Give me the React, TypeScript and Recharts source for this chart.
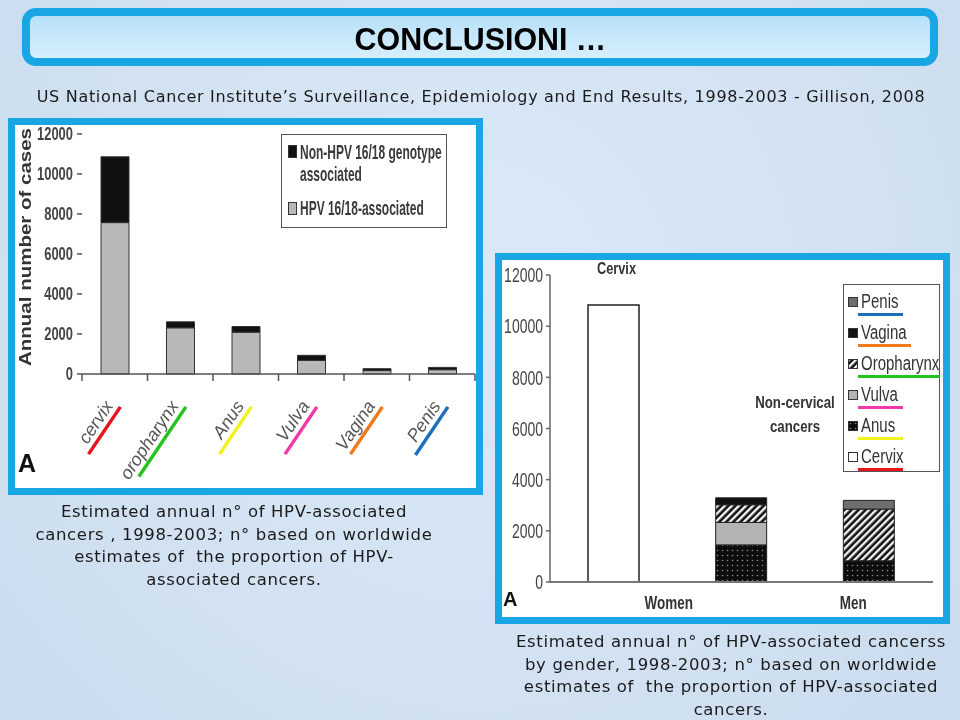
import React from "react";
import { BarChart, Bar, XAxis, YAxis, Legend, LabelList } from "recharts";

// ---------- data: chart A (by cancer site) ----------
const siteCategories = ["cervix", "oropharynx", "Anus", "Vulva", "Vagina", "Penis"];
const hpv1618Cases = [7570, 2310, 2090, 680, 170, 215];
const nonHpv1618Cases = [3290, 300, 285, 255, 95, 115];
const leftYTicks = [0, 2000, 4000, 6000, 8000, 10000, 12000];

// ---------- data: chart B (by gender) ----------
const genderCategories = ["Women cervix", "Women non-cervical", "Men"];
const genderTickLabels = ["Women", "", "Men"];
const cervixCases = [10830, 0, 0];
const anusCases = [0, 1450, 830];
const vulvaCases = [0, 880, 0];
const oropharynxCases = [0, 690, 2020];
const vaginaCases = [0, 270, 0];
const penisCases = [0, 0, 340];
const rightYTicks = [0, 2000, 4000, 6000, 8000, 10000, 12000];
const rightLegendOrder = ["Penis", "Vagina", "Oropharynx", "Vulva", "Anus", "Cervix"];

// ---------- styles ----------
const SANS = "'Liberation Sans', Arial, sans-serif";
const GOTHIC = "'DejaVu Sans', sans-serif";
const BLUE = "#19a6e4";
const siteUnderlineColors = ["#e8141b", "#22c41d", "#f4f21c", "#ee3aa8", "#f07a1a", "#1c6fb8"];
const siteUnderlineLen = [54, 81, 54, 54, 54, 55];
const LEFT_BAND = (475 - 82) / 6;

const seriesFill: Record<string, string> = {
  Penis: "#6e6e6e",
  Vagina: "#111111",
  Oropharynx: "url(#oroHatch)",
  Vulva: "#b3b3b3",
  Anus: "url(#anusDots)",
  Cervix: "#ffffff",
};
const seriesUnderline: Record<string, string> = {
  Penis: "#1c6fb8",
  Vagina: "#f07a1a",
  Oropharynx: "#22c41d",
  Vulva: "#ee3aa8",
  Anus: "#f4f21c",
  Cervix: "#e8141b",
};
const seriesUnderlineLen: Record<string, number> = {
  Penis: 45, Vagina: 53, Oropharynx: 82, Vulva: 45, Anus: 45, Cervix: 45,
};

const leftData = siteCategories.map((site, i) => ({
  site,
  hpv: hpv1618Cases[i],
  non: nonHpv1618Cases[i],
}));

const rightData = genderCategories.map((g, i) => ({
  group: g,
  label: genderTickLabels[i],
  Cervix: cervixCases[i],
  Anus: anusCases[i],
  Vulva: vulvaCases[i],
  Oropharynx: oropharynxCases[i],
  Vagina: vaginaCases[i],
  Penis: penisCases[i],
}));

// ---------- tick renderers ----------
const LeftYTick = (p: any) => (
  <text
    transform={`translate(${p.x},${p.y}) scale(0.72,1)`}
    textAnchor="end"
    dy="0.36em"
    fontSize={18}
    fontWeight="bold"
    fill="#444"
    fontFamily={SANS}
  >
    {p.payload.value}
  </text>
);

const LeftXTick = (p: any) => {
  const { x, y, payload, index } = p;
  const half = LEFT_BAND / 2;
  return (
    <g transform={`translate(${x},${y})`}>
      {index === 0 && <line x1={-half} y1={0} x2={-half} y2={7} stroke="#555" strokeWidth={1.5} />}
      <line x1={half} y1={0} x2={half} y2={7} stroke="#555" strokeWidth={1.5} />
      <g transform="translate(-1,32) rotate(-56)">
        <text textAnchor="end" fontStyle="italic" fontSize={18} fill="#555" fontFamily={SANS}>
          {payload.value}
        </text>
        <line
          x1={-siteUnderlineLen[index]}
          x2={3}
          y1={6}
          y2={6}
          stroke={siteUnderlineColors[index]}
          strokeWidth={3.5}
        />
      </g>
    </g>
  );
};

const RightYTick = (p: any) => (
  <text
    transform={`translate(${p.x},${p.y}) scale(0.7,1)`}
    textAnchor="end"
    dy="0.36em"
    fontSize={20}
    fill="#444"
    fontFamily={SANS}
  >
    {p.payload.value}
  </text>
);

const genderLabelShift = [55, 0, -16];
const RightXTick = (p: any) => {
  const { x, y, index } = p;
  const lab = genderTickLabels[index];
  if (!lab) return null;
  return (
    <text
      transform={`translate(${x + genderLabelShift[index]},${y + 27}) scale(0.75,1)`}
      textAnchor="middle"
      fontSize={18}
      fontWeight="bold"
      fill="#333"
      fontFamily={SANS}
    >
      {lab}
    </text>
  );
};

const CervixTopLabel = (p: any) => {
  const { x, y, width, value } = p;
  if (!value) return null;
  return (
    <text
      transform={`translate(${x + width / 2 + 3},${y - 31}) scale(0.75,1)`}
      textAnchor="middle"
      fontSize={17}
      fontWeight="bold"
      fill="#333"
      fontFamily={SANS}
    >
      Cervix
    </text>
  );
};

const YAxisTitle = (p: any) => {
  const vb = p.viewBox || { x: 0, y: 0, width: 0, height: 0 };
  return (
    <text
      transform={`translate(${vb.x + 5},${vb.y + vb.height / 2 - 7}) rotate(-90) scale(1,0.78)`}
      textAnchor="middle"
      fontSize={20.5}
      fontWeight="bold"
      fill="#333"
      fontFamily={SANS}
    >
      Annual number of cases
    </text>
  );
};

// ---------- legends ----------
const sq = (txt: string, scale: number, size: number, bold: boolean, color = "#333") => (
  <span
    style={{
      display: "inline-block",
      transform: `scaleX(${scale})`,
      transformOrigin: "left center",
      fontSize: size,
      fontWeight: bold ? "bold" : "normal",
      whiteSpace: "nowrap",
      fontFamily: SANS,
      color,
      lineHeight: `${size}px`,
    }}
  >
    {txt}
  </span>
);

const LeftLegend = () => (
  <div
    style={{
      position: "relative",
      width: 166,
      height: 94,
      border: "1.5px solid #555",
      boxSizing: "border-box",
      background: "#fff",
    }}
  >
    <div style={{ position: "absolute", left: 6, top: 10, width: 9, height: 13, background: "#111", border: "1px solid #333", boxSizing: "border-box" }} />
    <div style={{ position: "absolute", left: 18, top: 6 }}>{sq("Non-HPV 16/18 genotype", 0.57, 21, true, "#3a3a3a")}</div>
    <div style={{ position: "absolute", left: 18, top: 28 }}>{sq("associated", 0.57, 21, true, "#3a3a3a")}</div>
    <div style={{ position: "absolute", left: 6, top: 67, width: 9, height: 13, background: "#b8b8b8", border: "1px solid #333", boxSizing: "border-box" }} />
    <div style={{ position: "absolute", left: 18, top: 62 }}>{sq("HPV 16/18-associated", 0.57, 21, true, "#3a3a3a")}</div>
  </div>
);

const RightLegend = () => (
  <div
    style={{
      position: "relative",
      width: 97,
      height: 188,
      border: "1.5px solid #555",
      boxSizing: "border-box",
      background: "#fff",
    }}
  >
    {rightLegendOrder.map((name, i) => {
      const cy = 16.5 + 31 * i;
      return (
        <React.Fragment key={name}>
          <svg style={{ position: "absolute", left: 4, top: cy - 5 }} width={10} height={10}>
            <rect x={0.5} y={0.5} width={9} height={9} fill={seriesFill[name]} stroke="#333" strokeWidth={1} />
          </svg>
          <div style={{ position: "absolute", left: 17, top: cy - 11 }}>{sq(name, 0.75, 20, false, "#333")}</div>
          <div
            style={{
              position: "absolute",
              left: 14,
              top: cy + 11,
              width: seriesUnderlineLen[name],
              height: 3.5,
              background: seriesUnderline[name],
            }}
          />
        </React.Fragment>
      );
    })}
  </div>
);

// ---------- app ----------
export default function App() {
  return (
    <div
      style={{
        position: "fixed",
        left: 0,
        top: 0,
        width: 960,
        height: 720,
        overflow: "hidden",
        background: "radial-gradient(circle at 50% 40%, #dbe9f7 0%, #d2e2f2 60%, #c9dbee 100%)",
        fontFamily: GOTHIC,
      }}
    >
      {/* title */}
      <div
        style={{
          position: "absolute",
          left: 22,
          top: 8,
          width: 916,
          height: 58,
          boxSizing: "border-box",
          border: `8px solid ${BLUE}`,
          borderRadius: 14,
          background: "linear-gradient(#b7e0f8, #d6effc)",
          display: "flex",
          alignItems: "center",
          justifyContent: "center",
        }}
      >
        <span
          style={{
            fontFamily: SANS,
            fontWeight: "bold",
            fontSize: 32,
            color: "#000",
            marginTop: 5,
            display: "inline-block",
            transform: "scaleX(0.95)",
          }}
        >
          CONCLUSIONI …
        </span>
      </div>
      <div
        style={{
          position: "absolute",
          left: 0,
          width: 962,
          top: 87,
          textAlign: "center",
          fontSize: 16,
          letterSpacing: 0.7,
          color: "#1a1a1a",
          whiteSpace: "nowrap",
        }}
      >
        US National Cancer Institute’s Surveillance, Epidemiology and End Results, 1998-2003 - Gillison, 2008
      </div>

      {/* left panel */}
      <div
        style={{
          position: "absolute",
          left: 8,
          top: 118,
          width: 475,
          height: 377,
          boxSizing: "border-box",
          border: `7px solid ${BLUE}`,
          background: "#fff",
        }}
      />
      <div style={{ position: "absolute", left: 8, top: 118 }}>
        <BarChart
          width={475}
          height={377}
          data={leftData}
          margin={{ top: 16, right: 8, bottom: 0, left: 18 }}
          barSize={28}
        >
          <XAxis
            dataKey="site"
            height={121}
            interval={0}
            tickLine={false}
            tickSize={0}
            tickMargin={0}
            axisLine={{ stroke: "#555", strokeWidth: 1.5 }}
            tick={<LeftXTick />}
          />
          <YAxis
            width={56}
            domain={[0, 12000]}
            ticks={leftYTicks}
            interval={0}
            tickSize={5}
            tickMargin={4}
            axisLine={false}
            tickLine={{ stroke: "#555", strokeWidth: 1.5 }}
            tick={<LeftYTick />}
            label={<YAxisTitle />}
          />
          <Legend
            layout="vertical"
            align="center"
            verticalAlign="middle"
            wrapperStyle={{ position: "absolute", left: 273, top: 16, width: 166, height: 94 }}
            content={() => <LeftLegend />}
          />
          <Bar dataKey="hpv" stackId="a" fill="#b8b8b8" stroke="#333" strokeWidth={1} isAnimationActive={false} />
          <Bar dataKey="non" stackId="a" fill="#111" stroke="#333" strokeWidth={1} isAnimationActive={false} />
        </BarChart>
      </div>
      <div style={{ position: "absolute", left: 18, top: 449, fontFamily: SANS, fontWeight: "bold", fontSize: 25, color: "#111" }}>
        A
      </div>

      {/* left caption */}
      <div
        style={{
          position: "absolute",
          left: 0,
          width: 468,
          top: 501,
          textAlign: "center",
          fontSize: 16.5,
          letterSpacing: 0.65,
          lineHeight: "22.7px",
          color: "#1a1a1a",
        }}
      >
        Estimated annual n° of HPV-associated
        <br />
        cancers , 1998-2003; n° based on worldwide
        <br />
        estimates of&nbsp; the proportion of HPV-
        <br />
        associated cancers.
      </div>

      {/* right panel */}
      <div
        style={{
          position: "absolute",
          left: 495,
          top: 253,
          width: 455,
          height: 371,
          boxSizing: "border-box",
          border: `7px solid ${BLUE}`,
          background: "#fff",
        }}
      />
      <div style={{ position: "absolute", left: 495, top: 253 }}>
        <BarChart
          width={455}
          height={371}
          data={rightData}
          margin={{ top: 22, right: 17, bottom: 12, left: 5 }}
          barSize={51}
        >
          <defs>
            <pattern id="oroHatch" patternUnits="userSpaceOnUse" width={5} height={5} patternTransform="rotate(45)">
              <rect x={0} y={0} width={5} height={5} fill="#111" />
              <rect x={0} y={0} width={2.4} height={5} fill="#f4f4f4" />
            </pattern>
            <pattern id="anusDots" patternUnits="userSpaceOnUse" width={5} height={5}>
              <rect x={0} y={0} width={5} height={5} fill="#0d0d0d" />
              <circle cx={2.5} cy={2.5} r={0.8} fill="#8a8a8a" />
            </pattern>
          </defs>
          <XAxis
            dataKey="group"
            height={30}
            interval={0}
            tickLine={false}
            tickSize={0}
            tickMargin={0}
            axisLine={{ stroke: "#777", strokeWidth: 2 }}
            tick={<RightXTick />}
          />
          <YAxis
            width={50}
            domain={[0, 12000]}
            ticks={rightYTicks}
            interval={0}
            tickSize={4}
            tickMargin={3}
            axisLine={{ stroke: "#666", strokeWidth: 1.5 }}
            tickLine={{ stroke: "#666", strokeWidth: 1.5 }}
            tick={<RightYTick />}
          />
          <Legend
            layout="vertical"
            align="center"
            verticalAlign="middle"
            wrapperStyle={{ position: "absolute", left: 348, top: 31, width: 97, height: 188 }}
            content={() => <RightLegend />}
          />
          <Bar dataKey="Cervix" stackId="s" fill="#fff" stroke="#222" strokeWidth={1.5} isAnimationActive={false}>
            <LabelList dataKey="Cervix" content={<CervixTopLabel />} />
          </Bar>
          <Bar dataKey="Anus" stackId="s" fill="url(#anusDots)" stroke="#222" strokeWidth={1} isAnimationActive={false} />
          <Bar dataKey="Vulva" stackId="s" fill="#b3b3b3" stroke="#222" strokeWidth={1} isAnimationActive={false} />
          <Bar dataKey="Oropharynx" stackId="s" fill="url(#oroHatch)" stroke="#222" strokeWidth={1} isAnimationActive={false} />
          <Bar dataKey="Vagina" stackId="s" fill="#111" stroke="#222" strokeWidth={1} isAnimationActive={false} />
          <Bar dataKey="Penis" stackId="s" fill="#6e6e6e" stroke="#222" strokeWidth={1} isAnimationActive={false} />
        </BarChart>
      </div>
      <div
        style={{
          position: "absolute",
          left: 690,
          top: 391,
          width: 210,
          textAlign: "center",
          fontFamily: SANS,
          fontWeight: "bold",
          fontSize: 17,
          lineHeight: "24px",
          color: "#333",
          transform: "scaleX(0.78)",
        }}
      >
        Non-cervical
        <br />
        cancers
      </div>
      <div style={{ position: "absolute", left: 503, top: 588, fontFamily: SANS, fontWeight: "bold", fontSize: 20, color: "#111" }}>
        A
      </div>

      {/* right caption */}
      <div
        style={{
          position: "absolute",
          left: 500,
          width: 462,
          top: 631,
          textAlign: "center",
          fontSize: 16.5,
          letterSpacing: 0.65,
          lineHeight: "22.5px",
          color: "#1a1a1a",
        }}
      >
        Estimated annual n° of HPV-associated cancerss
        <br />
        by gender, 1998-2003; n° based on worldwide
        <br />
        estimates of&nbsp; the proportion of HPV-associated
        <br />
        cancers.
      </div>
    </div>
  );
}
